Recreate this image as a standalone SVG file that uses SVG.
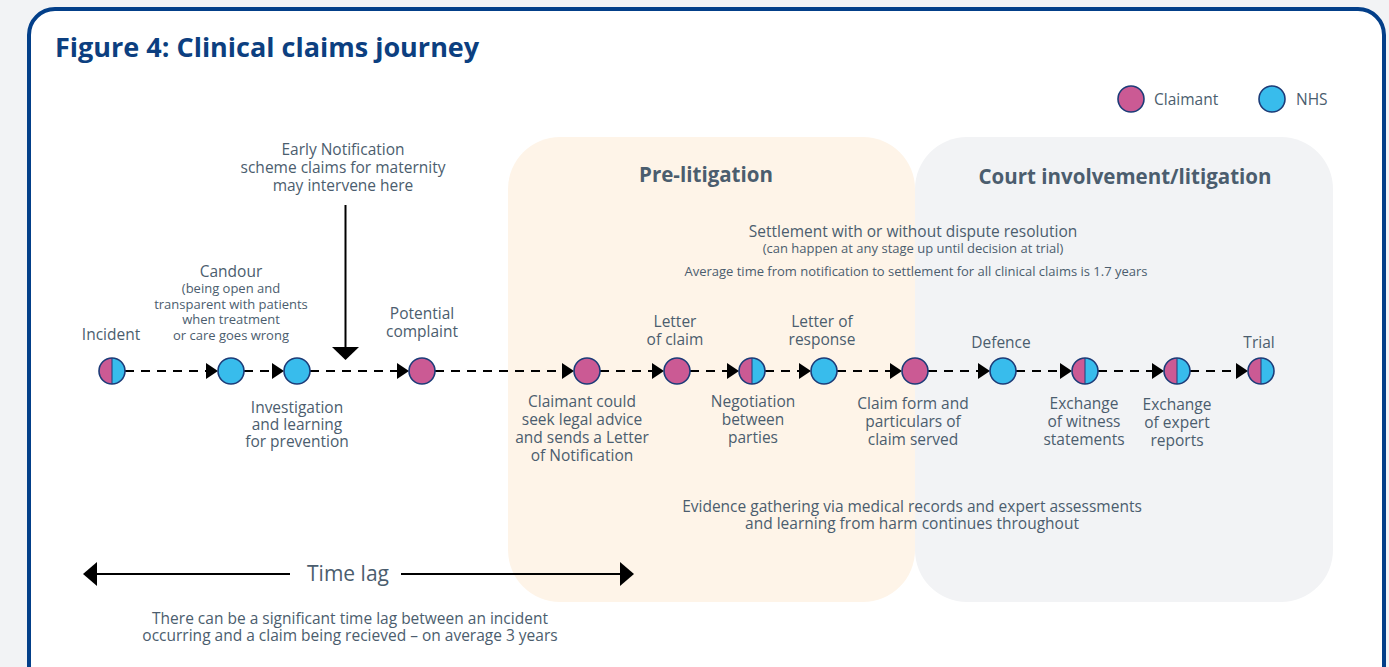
<svg xmlns="http://www.w3.org/2000/svg" width="1389" height="667" viewBox="0 0 1389 667">
  <style>
    text { font-family: "Open Sans", "Liberation Sans", Arial, sans-serif; fill: #4b5d6e; text-anchor: middle; }
    .lbl { font-size: 15.5px; }
    .sm { font-size: 13px; }
    .head { font-size: 20.5px; font-weight: bold; }
    .title { font-size: 27px; font-weight: bold; fill: #0c3f80; text-anchor: start; }
    .dash { stroke: #000; stroke-width: 2; stroke-dasharray: 9 7; fill: none; }
    .claimant { fill: #cb5a94; }
    .nhs { fill: #38bcec; }
    .ring { fill: none; stroke: #1d3c78; stroke-width: 1.6; }
  </style>
  <defs>
    <!-- split node: claimant half on the left, NHS half on the right -->
    <g id="both">
      <path class="claimant" d="M0,-13 A13,13 0 0 0 0,13 Z"/>
      <path class="nhs" d="M0,-13 A13,13 0 0 1 0,13 Z"/>
      <line x1="0" y1="-13" x2="0" y2="13" stroke="#1d3c78" stroke-width="1"/>
      <circle class="ring" r="13"/>
    </g>
    <g id="pink">
      <circle class="claimant" r="13"/>
      <circle class="ring" r="13"/>
    </g>
    <g id="blue">
      <circle class="nhs" r="13"/>
      <circle class="ring" r="13"/>
    </g>
    <!-- arrowhead pointing right, tip at origin -->
    <path id="tip" d="M0,0 L-12,-8 L-12,8 Z" fill="#000"/>
  </defs>

  <!-- page -->
  <rect x="0" y="0" width="1389" height="667" fill="#f2f3f5"/>
  <rect x="29" y="9" width="1355" height="700" rx="26" ry="26" fill="#ffffff" stroke="#033f89" stroke-width="4"/>

  <text class="title" x="55" y="57">Figure 4: Clinical claims journey</text>

  <!-- legend -->
  <g id="legend">
    <use href="#pink" x="1131" y="99"/>
    <text class="lbl" x="1154" y="105" style="text-anchor:start">Claimant</text>
    <use href="#blue" x="1272" y="99"/>
    <text class="lbl" x="1296" y="105" style="text-anchor:start">NHS</text>
  </g>

  <!-- stage panels -->
  <g id="pre-litigation">
    <rect x="508" y="137" width="407" height="465" rx="52" ry="52" fill="#fef4e8"/>
    <text class="head" x="706" y="182">Pre-litigation</text>
  </g>
  <g id="court">
    <rect x="915" y="137" width="418" height="465" rx="52" ry="52" fill="#f2f3f5"/>
    <text class="head" x="1125" y="184">Court involvement/litigation</text>
  </g>

  <!-- settlement notes -->
  <g id="settlement">
    <text x="913" y="237"><tspan class="lbl">Settlement with or without dispute resolution</tspan><tspan class="sm" x="913" dy="16">(can happen at any stage up until decision at trial)</tspan><tspan class="sm" x="916" dy="23">Average time from notification to settlement for all clinical claims is 1.7 years</tspan></text>
  </g>

  <!-- connectors -->
  <g id="connectors">
    <path class="dash" d="M125,371 H206 M244,371 H272 M310,371 H397 M435,371 H562 M600,371 H652 M690,371 H727 M765,371 H799 M837,371 H890 M928,371 H978 M1016,371 H1060 M1098,371 H1152 M1190,371 H1236"/>
    <use href="#tip" x="218" y="371"/>
    <use href="#tip" x="284" y="371"/>
    <use href="#tip" x="409" y="371"/>
    <use href="#tip" x="574" y="371"/>
    <use href="#tip" x="664" y="371"/>
    <use href="#tip" x="739" y="371"/>
    <use href="#tip" x="811" y="371"/>
    <use href="#tip" x="902" y="371"/>
    <use href="#tip" x="990" y="371"/>
    <use href="#tip" x="1072" y="371"/>
    <use href="#tip" x="1164" y="371"/>
    <use href="#tip" x="1248" y="371"/>
    <!-- early notification pointer -->
    <line x1="345.5" y1="205" x2="345.5" y2="348" stroke="#000" stroke-width="2"/>
    <path d="M332,347 L359,347 L345.5,360 Z" fill="#000"/>
    <!-- time lag span -->
    <line x1="95" y1="574" x2="290" y2="574" stroke="#000" stroke-width="2"/>
    <line x1="401" y1="574" x2="622" y2="574" stroke="#000" stroke-width="2"/>
    <path d="M83,574 L97,562 L97,586 Z" fill="#000"/>
    <path d="M634,574 L620,562 L620,586 Z" fill="#000"/>
  </g>

  <g id="early-notification">
    <text class="lbl" x="343" y="155">Early Notification<tspan x="343" dy="18">scheme claims for maternity</tspan><tspan x="343" dy="18">may intervene here</tspan></text>
  </g>

  <g id="n-incident">
    <use href="#both" x="112" y="371"/>
    <text class="lbl" x="111" y="340">Incident</text>
  </g>
  <g id="n-candour">
    <use href="#blue" x="231" y="371"/>
    <text x="231" y="277"><tspan class="lbl">Candour</tspan><tspan class="sm" x="231" dy="16">(being open and</tspan><tspan class="sm" x="231" dy="15.5">transparent with patients</tspan><tspan class="sm" x="231" dy="15.5">when treatment</tspan><tspan class="sm" x="231" dy="15.5">or care goes wrong</tspan></text>
  </g>
  <g id="n-investigation">
    <use href="#blue" x="297" y="371"/>
    <text class="lbl" x="297" y="413">Investigation<tspan x="297" dy="17">and learning</tspan><tspan x="297" dy="17">for prevention</tspan></text>
  </g>
  <g id="n-complaint">
    <use href="#pink" x="422" y="371"/>
    <text class="lbl" x="422" y="319">Potential<tspan x="422" dy="18">complaint</tspan></text>
  </g>
  <g id="n-notification">
    <use href="#pink" x="587" y="371"/>
    <text class="lbl" x="582" y="407">Claimant could<tspan x="582" dy="18">seek legal advice</tspan><tspan x="582" dy="18">and sends a Letter</tspan><tspan x="582" dy="18">of Notification</tspan></text>
  </g>
  <g id="n-letter-claim">
    <use href="#pink" x="677" y="371"/>
    <text class="lbl" x="675" y="327">Letter<tspan x="675" dy="18">of claim</tspan></text>
  </g>
  <g id="n-negotiation">
    <use href="#both" x="752" y="371"/>
    <text class="lbl" x="753" y="407">Negotiation<tspan x="753" dy="18">between</tspan><tspan x="753" dy="18">parties</tspan></text>
  </g>
  <g id="n-letter-response">
    <use href="#blue" x="824" y="371"/>
    <text class="lbl" x="822" y="327">Letter of<tspan x="822" dy="18">response</tspan></text>
  </g>
  <g id="n-claim-form">
    <use href="#pink" x="915" y="371"/>
    <text class="lbl" x="913" y="409">Claim form and<tspan x="913" dy="18">particulars of</tspan><tspan x="913" dy="18">claim served</tspan></text>
  </g>
  <g id="n-defence">
    <use href="#blue" x="1003" y="371"/>
    <text class="lbl" x="1001" y="348">Defence</text>
  </g>
  <g id="n-witness">
    <use href="#both" x="1085" y="371"/>
    <text class="lbl" x="1084" y="409">Exchange<tspan x="1084" dy="18">of witness</tspan><tspan x="1084" dy="18">statements</tspan></text>
  </g>
  <g id="n-expert">
    <use href="#both" x="1177" y="371"/>
    <text class="lbl" x="1177" y="410">Exchange<tspan x="1177" dy="18">of expert</tspan><tspan x="1177" dy="18">reports</tspan></text>
  </g>
  <g id="n-trial">
    <use href="#both" x="1261" y="371"/>
    <text class="lbl" x="1259" y="348">Trial</text>
  </g>

  <!-- footnotes -->
  <text class="lbl" x="912" y="512">Evidence gathering via medical records and expert assessments<tspan x="912" dy="17">and learning from harm continues throughout</tspan></text>

  <text x="348" y="581" style="font-size:21px">Time lag</text>
  <text class="lbl" x="350" y="624">There can be a significant time lag between an incident<tspan x="350" dy="17">occurring and a claim being recieved – on average 3 years</tspan></text>
</svg>
